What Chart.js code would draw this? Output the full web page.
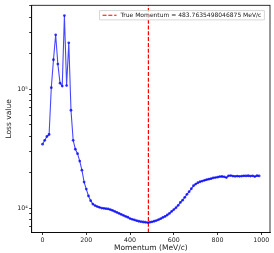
<!DOCTYPE html>
<html>
<head>
<meta charset="utf-8">
<script src="https://cdn.jsdelivr.net/npm/chart.js@4.4.0/dist/chart.umd.min.js"></script>
<style>
  body { margin: 0; background: #fff; }
  canvas { display: block; }
</style>
</head>
<body>
<canvas id="lossChart" width="274" height="253"></canvas>
<script>
const momentum = [
    0, 10, 20, 30, 40, 50, 60, 70, 80, 90,
    100, 110, 120, 130, 140, 150, 160, 170, 180, 190,
    200, 210, 220, 230, 240, 250, 260, 270, 280, 290,
    300, 310, 320, 330, 340, 350, 360, 370, 380, 390,
    400, 410, 420, 430, 440, 450, 460, 470, 480, 490,
    500, 510, 520, 530, 540, 550, 560, 570, 580, 590,
    600, 610, 620, 630, 640, 650, 660, 670, 680, 690,
    700, 710, 720, 730, 740, 750, 760, 770, 780, 790,
    800, 810, 820, 830, 840, 850, 860, 870, 880, 890,
    900, 910, 920, 930, 940, 950, 960, 970, 980, 990
];
const lossValues = [
    34500, 37200, 40000, 41600, 102700, 176000, 285000, 162000, 112000, 106000,
    413000, 107000, 244000, 66400, 37200, 31300, 28700, 24900, 20900, 16600,
    14500, 12700, 11600, 10850, 10550, 10350, 10200, 10050, 9990, 9930,
    9880, 9750, 9600, 9410, 9240, 9060, 8890, 8710, 8550, 8420,
    8200, 8090, 7990, 7880, 7790, 7720, 7680, 7640, 7600, 7640,
    7700, 7790, 7890, 8030, 8190, 8390, 8550, 8790, 9060, 9410,
    9770, 10130, 10600, 11200, 11700, 12370, 13100, 13780, 14590, 15460,
    15970, 16380, 16700, 16930, 17160, 17400, 17570, 17740, 17980, 18120,
    18260, 18440, 18480, 18370, 18100, 18720, 18830, 18620, 18550, 18620,
    18550, 18620, 18720, 18690, 18760, 18620, 18720, 18440, 18790, 18690
];
const trueMomentum = 483.7635498046875;
const xTicks = [0, 200, 400, 600, 800, 1000];
const yTicks = [7000, 8000, 9000, 10000, 20000, 30000, 40000, 50000, 60000, 70000, 80000, 90000,
    100000, 200000, 300000, 400000, 500000];
const yLabels = { 10000: "10⁴", 100000: "10⁵" };

const yMin = 6270;
const yMax = 504000;

// matplotlib style legend (top right, inside the axes) and the full frame
const framePlugin = {
    id: "frame",
    afterDatasetsDraw(chart) {
        const a = chart.chartArea;
        const ctx = chart.ctx;
        const ds = chart.data.datasets[1];
        ctx.save();
        ctx.font = "6px 'DejaVu Sans'";
        const textW = ctx.measureText(ds.label).width;
        const w = 3 + 14 + 4 + textW + 3;
        const h = 9.3;
        const r = a.right - 5.6;
        const l = r - w;
        const t = a.top + 5.3;
        ctx.fillStyle = "rgba(255,255,255,0.8)";
        ctx.strokeStyle = "#cccccc";
        ctx.lineWidth = 0.8;
        ctx.beginPath();
        ctx.rect(l, t, w, h);
        ctx.fill();
        ctx.stroke();
        // dashed sample
        ctx.strokeStyle = ds.borderColor;
        ctx.lineWidth = ds.borderWidth;
        ctx.setLineDash(ds.borderDash);
        ctx.beginPath();
        ctx.moveTo(l + 3, t + h / 2);
        ctx.lineTo(l + 17, t + h / 2);
        ctx.stroke();
        ctx.setLineDash([]);
        ctx.fillStyle = "#222";
        ctx.textBaseline = "middle";
        ctx.textAlign = "left";
        ctx.fillText(ds.label, l + 21, t + h / 2 + 0.3);
        ctx.restore();
    },
    afterDraw(chart) {
        const a = chart.chartArea;
        const ctx = chart.ctx;
        ctx.save();
        ctx.strokeStyle = "#000";
        ctx.lineWidth = 0.8;
        ctx.strokeRect(a.left, a.top, a.right - a.left, a.bottom - a.top);
        ctx.restore();
    }
};

document.addEventListener("DOMContentLoaded", function () {
    const ctx = document.getElementById("lossChart").getContext("2d");

    new Chart(ctx, {
        type: "line",
        data: {
            datasets: [{
                label: "Loss",
                data: momentum.map((m, i) => ({ x: m, y: lossValues[i] })),
                borderColor: "rgba(0,0,255,0.72)",
                backgroundColor: "rgba(0,0,255,0.75)",
                borderWidth: 1.1,
                pointRadius: 1.4,
                pointBorderWidth: 0,
                fill: false,
                tension: 0
            },
            {
                label: "True Momentum = " + trueMomentum + " MeV/c",
                data: [{ x: trueMomentum, y: yMin }, { x: trueMomentum, y: yMax }],
                borderColor: "#ff0000",
                backgroundColor: "#ff0000",
                borderWidth: 1.2,
                borderDash: [4, 1.8],
                pointRadius: 0,
                fill: false
            }]
        },
        options: {
            responsive: false,
            animation: false,
            devicePixelRatio: 1,
            layout: { padding: { top: 5, right: 1, left: 0, bottom: 0 } },
            plugins: {
                tooltip: { enabled: false },
                legend: { display: false }
            },
            scales: {
                x: {
                    type: "linear",
                    min: -49.5,
                    max: 1039.5,
                    afterBuildTicks: (scale) => { scale.ticks = xTicks.map(v => ({ value: v })); },
                    afterFit: (scale) => { scale.height = 20.5; },
                    grid: { display: true, drawOnChartArea: false, tickLength: 2.5, color: "#000", lineWidth: 0.8 },
                    border: { display: true, color: "#000", width: 0.8 },
                    ticks: {
                        autoSkip: false,
                        maxRotation: 0,
                        padding: 1.5,
                        color: "#222",
                        font: { family: "DejaVu Sans", size: 6.3 },
                        callback: (v) => String(v)
                    },
                    title: {
                        display: true,
                        text: "Momentum (MeV/c)",
                        color: "#222",
                        padding: { top: 0, bottom: 0 },
                        font: { family: "DejaVu Sans", size: 7.5 }
                    }
                },
                y: {
                    type: "logarithmic",
                    min: yMin,
                    max: yMax,
                    afterBuildTicks: (scale) => { scale.ticks = yTicks.map(v => ({ value: v })); },
                    afterFit: (scale) => { scale.width = 31.7; },
                    grid: { display: true, drawOnChartArea: false, tickLength: 2.5, color: "#000", lineWidth: 0.8 },
                    border: { display: true, color: "#000", width: 0.8 },
                    ticks: {
                        autoSkip: false,
                        padding: 1.5,
                        color: "#222",
                        font: { family: "DejaVu Sans", size: 6.3 },
                        callback: (v) => yLabels[v] || ""
                    },
                    title: {
                        display: true,
                        text: "Loss value",
                        color: "#222",
                        padding: { top: 4.5, bottom: 0 },
                        font: { family: "DejaVu Sans", size: 7.5 }
                    }
                }
            }
        },
        plugins: [framePlugin]
    });
});
</script>
</body>
</html>
